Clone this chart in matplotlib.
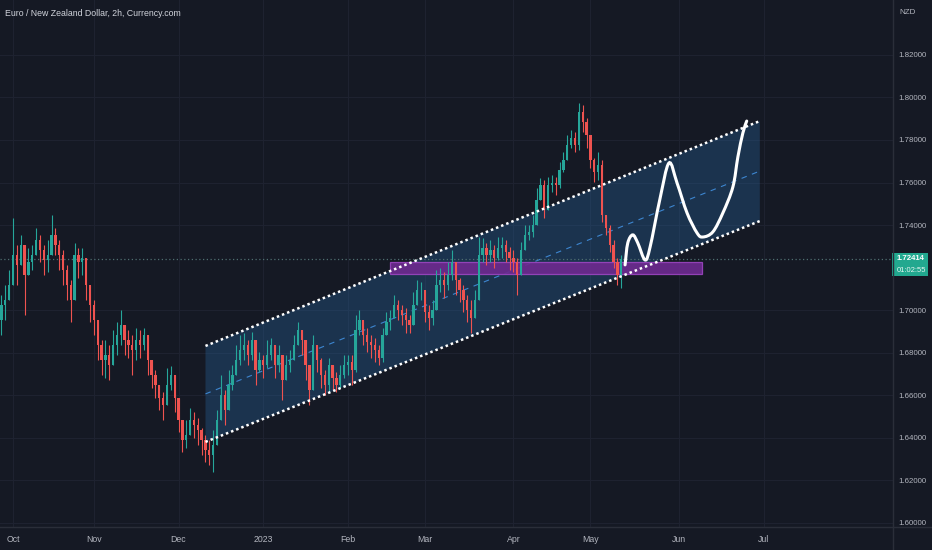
import numpy as np
import pandas as pd
import matplotlib
matplotlib.use("Agg")
import matplotlib.pyplot as plt
from matplotlib.path import Path
from matplotlib.patches import PathPatch, Rectangle
from matplotlib.transforms import blended_transform_factory

# EUR/NZD, one candle per trading day
first_day = "2022-09-27"
first_open = 1.6906
closes = [
    1.6953, 1.7024, 1.7047, 1.7118, 1.7258, 1.7212, 1.7306, 1.7165, 1.7226, 1.7258,
    1.7330, 1.7283, 1.7236, 1.7258, 1.7353, 1.7306, 1.7258, 1.7189, 1.7118, 1.7047,
    1.7258, 1.7226, 1.7245, 1.7118, 1.7024, 1.6953, 1.6835, 1.6764, 1.6788, 1.6741,
    1.6835, 1.6882, 1.6929, 1.6859, 1.6835, 1.6811, 1.6859, 1.6835, 1.6882, 1.6764,
    1.6694, 1.6647, 1.6586, 1.6553, 1.6647, 1.6694, 1.6586, 1.6483, 1.6389, 1.6412,
    1.6483, 1.6459, 1.6436, 1.6389, 1.6342, 1.6318, 1.6365, 1.6483, 1.6600, 1.6530,
    1.6647, 1.6694, 1.6764, 1.6811, 1.6835, 1.6788, 1.6859, 1.6717, 1.6764, 1.6741,
    1.6788, 1.6835, 1.6741, 1.6788, 1.6670, 1.6741, 1.6764, 1.6835, 1.6906, 1.6859,
    1.6741, 1.6623, 1.6835, 1.6764, 1.6694, 1.6647, 1.6741, 1.6680, 1.6647, 1.6694,
    1.6741, 1.6755, 1.6717, 1.6906, 1.6953, 1.6882, 1.6849, 1.6835, 1.6811, 1.6774,
    1.6882, 1.6943, 1.6962, 1.7024, 1.7000, 1.6977, 1.6953, 1.6929, 1.7024, 1.7094,
    1.7094, 1.6991, 1.6962, 1.7000, 1.7118, 1.7141, 1.7118, 1.7165, 1.7226, 1.7141,
    1.7094, 1.7047, 1.7000, 1.6962, 1.7047, 1.7258, 1.7292, 1.7258, 1.7283, 1.7245,
    1.7292, 1.7306, 1.7273, 1.7245, 1.7226, 1.7165, 1.7283, 1.7353, 1.7367, 1.7400,
    1.7518, 1.7589, 1.7471, 1.7589, 1.7598, 1.7589, 1.7659, 1.7706, 1.7777, 1.7809,
    1.7777, 1.7932, 1.7885, 1.7824, 1.7706, 1.7650, 1.7683, 1.7447, 1.7386, 1.7306,
    1.7226, 1.7165, 1.72414,
]
highs = [
    1.7047, 1.7071, 1.7118, 1.7189, 1.7433, 1.7306, 1.7353, 1.7306, 1.7292, 1.7306,
    1.7386, 1.7353, 1.7306, 1.7330, 1.7447, 1.7386, 1.7330, 1.7283, 1.7212, 1.7141,
    1.7316, 1.7292, 1.7292, 1.7226, 1.7118, 1.7047, 1.6929, 1.6859, 1.6859, 1.6835,
    1.6906, 1.6943, 1.7000, 1.6929, 1.6906, 1.6882, 1.6915, 1.6906, 1.6915, 1.6835,
    1.6764, 1.6717, 1.6647, 1.6614, 1.6727, 1.6736, 1.6647, 1.6553, 1.6459, 1.6483,
    1.6539, 1.6520, 1.6492, 1.6445, 1.6412, 1.6389, 1.6436, 1.6530, 1.6694, 1.6623,
    1.6717, 1.6741, 1.6835, 1.6882, 1.6892, 1.6859, 1.6896, 1.6811, 1.6802, 1.6788,
    1.6859, 1.6868, 1.6811, 1.6835, 1.6764, 1.6788, 1.6811, 1.6882, 1.6943, 1.6906,
    1.6859, 1.6717, 1.6882, 1.6811, 1.6774, 1.6717, 1.6774, 1.6741, 1.6708, 1.6741,
    1.6788, 1.6788, 1.6788, 1.6977, 1.7000, 1.6929, 1.6915, 1.6882, 1.6868, 1.6835,
    1.6915, 1.6991, 1.7000, 1.7071, 1.7047, 1.7024, 1.7010, 1.6977, 1.7085, 1.7141,
    1.7132, 1.7071, 1.7024, 1.7047, 1.7189, 1.7198, 1.7179, 1.7226, 1.7283, 1.7212,
    1.7151, 1.7118, 1.7071, 1.7047, 1.7094, 1.7344, 1.7339, 1.7316, 1.7330, 1.7306,
    1.7344, 1.7344, 1.7330, 1.7297, 1.7283, 1.7245, 1.7321, 1.7400, 1.7400, 1.7447,
    1.7574, 1.7621, 1.7612, 1.7626, 1.7636, 1.7626, 1.7697, 1.7744, 1.7824, 1.7847,
    1.7838, 1.7974, 1.7965, 1.7903, 1.7824, 1.7715, 1.7744, 1.7706, 1.7447, 1.7400,
    1.7330, 1.7245, 1.7258,
]
lows = [
    1.6859, 1.6882, 1.6953, 1.7047, 1.7118, 1.7118, 1.7226, 1.6977, 1.7165, 1.7189,
    1.7283, 1.7226, 1.7165, 1.7179, 1.7283, 1.7258, 1.7189, 1.7118, 1.7047, 1.6943,
    1.7165, 1.7151, 1.7165, 1.7047, 1.6943, 1.6882, 1.6764, 1.6694, 1.6680, 1.6670,
    1.6755, 1.6788, 1.6835, 1.6788, 1.6774, 1.6694, 1.6764, 1.6774, 1.6811, 1.6694,
    1.6633, 1.6586, 1.6530, 1.6483, 1.6586, 1.6623, 1.6520, 1.6426, 1.6332, 1.6351,
    1.6412, 1.6398, 1.6365, 1.6318, 1.6285, 1.6271, 1.6238, 1.6389, 1.6483, 1.6459,
    1.6578, 1.6623, 1.6708, 1.6741, 1.6764, 1.6741, 1.6764, 1.6647, 1.6708, 1.6680,
    1.6727, 1.6764, 1.6680, 1.6708, 1.6578, 1.6680, 1.6708, 1.6764, 1.6849, 1.6788,
    1.6670, 1.6553, 1.6741, 1.6708, 1.6633, 1.6600, 1.6614, 1.6623, 1.6614, 1.6633,
    1.6680, 1.6694, 1.6647, 1.6708, 1.6882, 1.6835, 1.6802, 1.6774, 1.6755, 1.6741,
    1.6755, 1.6896, 1.6906, 1.6977, 1.6953, 1.6929, 1.6892, 1.6892, 1.6962, 1.7047,
    1.7047, 1.6943, 1.6906, 1.6929, 1.7047, 1.7085, 1.7057, 1.7094, 1.7141, 1.7071,
    1.7038, 1.6991, 1.6943, 1.6892, 1.6977, 1.7071, 1.7226, 1.7212, 1.7226, 1.7198,
    1.7236, 1.7245, 1.7226, 1.7189, 1.7179, 1.7071, 1.7189, 1.7292, 1.7330, 1.7344,
    1.7462, 1.7518, 1.7433, 1.7518, 1.7556, 1.7542, 1.7574, 1.7650, 1.7715, 1.7762,
    1.7744, 1.7753, 1.7838, 1.7762, 1.7668, 1.7603, 1.7612, 1.7415, 1.7353, 1.7273,
    1.7198, 1.7118, 1.7104,
]
last_price = 1.72414
countdown = "01:02:55"

# drawings on the chart
channel_days = ["2022-12-12", "2023-06-30"]
channel_upper = [1.6832, 1.7889]
channel_lower = [1.6381, 1.7419]
zone_days = ["2023-02-16", "2023-06-09"]
zone_prices = [1.7168, 1.7227]
# projected path: bars after the last candle, price
path_bars = [1.0, 1.7, 3.0, 4.3, 6.2, 7.5, 10.0, 12.4, 14.5, 17.1, 19.7, 21.2, 23.8, 26.4, 29.0, 30.3, 31.6, 32.6]
path_prices = [1.7213, 1.7316, 1.7354, 1.7316, 1.7236, 1.7297, 1.7518, 1.7692, 1.7598, 1.7457,
               1.7363, 1.7344, 1.7368, 1.7457, 1.7579, 1.7720, 1.7833, 1.7889]

price_levels = [1.60, 1.62, 1.64, 1.66, 1.68, 1.70, 1.74, 1.76, 1.78, 1.80, 1.82]
month_names = {10: "Oct", 11: "Nov", 12: "Dec", 1: "2023", 2: "Feb", 3: "Mar",
               4: "Apr", 5: "May", 6: "Jun", 7: "Jul"}

bg = "#151924"
grid_c = "#1e2230"
text_c = "#b2b5be"
up_c = "#26a69a"
down_c = "#ef5350"

plt.rcParams["font.family"] = ["Liberation Sans", "DejaVu Sans"]

days = pd.bdate_range(first_day, periods=240)
idx = {d.strftime("%Y-%m-%d"): i for i, d in enumerate(days)}

W, H = 932, 550
plot_w, plot_h = 893, 527
fig = plt.figure(figsize=(W / 100, H / 100), dpi=100, facecolor=bg)
ax = fig.add_axes([0, 1 - plot_h / H, plot_w / W, plot_h / H], facecolor=bg)

x = np.arange(len(closes))
c = np.array(closes)
o = np.array([first_open] + closes[:-1])
hi = np.maximum(np.array(highs), np.maximum(o, c))
lo = np.minimum(np.array(lows), np.minimum(o, c))
col = np.where(c >= o, up_c, down_c)

# channel
cx = [idx[d] for d in channel_days]
ax.fill([cx[0], cx[1], cx[1], cx[0]],
        [channel_upper[0], channel_upper[1], channel_lower[1], channel_lower[0]],
        color="#2a6aa8", alpha=0.32, lw=0, zorder=1)
mid = [(u + l) / 2 for u, l in zip(channel_upper, channel_lower)]
ax.plot(cx, mid, color="#3d86d0", lw=0.8, ls=(0, (5, 5)), zorder=2)

# zone box
zx = [idx[d] for d in zone_days]
ax.add_patch(Rectangle((zx[0], zone_prices[0]), zx[1] - zx[0], zone_prices[1] - zone_prices[0],
                       facecolor="#6c2a8e", alpha=0.92, edgecolor="#9a45bf", lw=0.9, zorder=2))

# candles
ax.vlines(x, lo, hi, colors=col, lw=0.8, zorder=3)
body_lo = np.minimum(o, c)
body_h = np.maximum(np.abs(c - o), 0.0003)
ax.bar(x, body_h, bottom=body_lo, width=0.6, color=col, lw=0, zorder=3)

# channel borders
for line in (channel_upper, channel_lower):
    ax.plot(cx, line, color="white", lw=1.8, ls=(0, (1, 1.2)), zorder=4)

# projection curve (Catmull-Rom through the anchors, drawn as bezier path)
px = np.array(path_bars) + len(closes) - 1
py = np.array(path_prices)
pts = np.column_stack([px, py])
verts = [pts[0]]
codes = [Path.MOVETO]
for i in range(len(pts) - 1):
    p0 = pts[i - 1] if i > 0 else pts[i]
    p1, p2 = pts[i], pts[i + 1]
    p3 = pts[i + 2] if i + 2 < len(pts) else pts[i + 1]
    verts += [p1 + (p2 - p0) / 6, p2 - (p3 - p1) / 6, p2]
    codes += [Path.CURVE4] * 3
ax.add_patch(PathPatch(Path(verts, codes), facecolor="none", edgecolor="white",
                       lw=2.2, capstyle="round", zorder=5))

# last price line
ax.axhline(last_price, color="#4f6f70", lw=0.9, ls=(0, (1, 2)), zorder=2)

# axes and ticks
ax.set_xlim(0.62, 232.6)
ax.set_ylim(1.5981, 1.8458)
month_pos, month_lab = [], []
for i in range(1, len(days)):
    if days[i].month != days[i - 1].month and days[i].month in month_names:
        month_pos.append(i)
        month_lab.append(month_names[days[i].month])
ax.set_xticks(month_pos, month_lab)
ax.set_yticks(price_levels, [f"{p:.5f}" for p in price_levels])
ax.yaxis.tick_right()
ax.tick_params(axis="both", length=0, labelcolor=text_c)
ax.tick_params(axis="y", pad=4, labelsize=5.7)
ax.tick_params(axis="x", pad=6, labelsize=6.3)
ax.grid(True, color=grid_c, lw=0.8)
ax.set_axisbelow(True)
for s in ax.spines.values():
    s.set_visible(False)

# separators between chart and scales
fig.add_artist(plt.Line2D([plot_w / W, plot_w / W], [0, 1], color="#2a2e39", lw=1))
fig.add_artist(plt.Line2D([0, 1], [1 - plot_h / H, 1 - plot_h / H], color="#2a2e39", lw=1))

# price tag
tr = blended_transform_factory(ax.transAxes, ax.transData)
ax.add_patch(Rectangle((892 / plot_w, 1.7161), 36 / plot_w, 0.0108, transform=tr,
                       facecolor="#22a88f", edgecolor="none", clip_on=False, zorder=6))
ax.text(897 / plot_w, last_price, f"{last_price:.5f}", transform=tr, color="white",
        fontsize=5.6, fontweight="bold", va="center", ha="left", clip_on=False, zorder=7)
ax.text(897 / plot_w, 1.7186, countdown, transform=tr, color="#e3f4f0",
        fontsize=5.5, va="center", ha="left", clip_on=False, zorder=7)

fig.text(5 / W, 1 - 14 / H, "Euro / New Zealand Dollar, 2h, Currency.com", color="#d1d4dc",
         fontsize=6.3, va="center", ha="left")
fig.text(899 / W, 1 - 12 / H, "NZD", color=text_c, fontsize=5.8, va="center", ha="left")

fig.savefig("out.png", dpi=100, facecolor=bg)
